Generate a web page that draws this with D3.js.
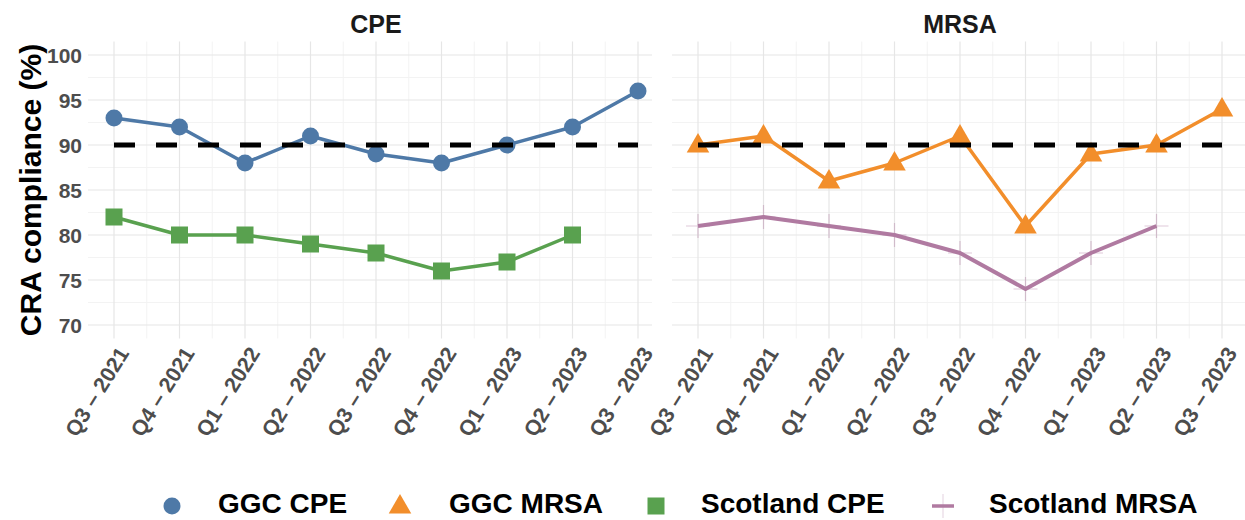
<!DOCTYPE html>
<html>
<head>
<meta charset="utf-8">
<script src="https://cdn.jsdelivr.net/npm/d3@7"></script>
<style>
  body { margin: 0; background: #fff; }
  svg { display: block; font-family: "Liberation Sans", Arial, sans-serif; }
</style>
</head>
<body>
<script>
var quarters = ["Q3 – 2021", "Q4 – 2021", "Q1 – 2022", "Q2 – 2022", "Q3 – 2022",
                "Q4 – 2022", "Q1 – 2023", "Q2 – 2023", "Q3 – 2023"];
var ggcCpe   = [93, 92, 88, 91, 89, 88, 90, 92, 96];
var scotCpe  = [82, 80, 80, 79, 78, 76, 77, 80];
var ggcMrsa  = [90, 91, 86, 88, 91, 81, 89, 90, 94];
var scotMrsa = [81, 82, 81, 80, 78, 74, 78, 81];
var yTicks = [70, 75, 80, 85, 90, 95, 100];
var target = 90;
var panelTitles = ["CPE", "MRSA"];
var legendNames = ["GGC CPE", "GGC MRSA", "Scotland CPE", "Scotland MRSA"];

var w = 1245, h = 520;
var col = { ggcCpe: "#4e79a7", ggcMrsa: "#f28e2b", scotCpe: "#59a14f", scotMrsa: "#b07aa1" };

var svg = d3.select("body").append("svg")
  .attr("width", w)
  .attr("height", h);

// y scale shared by both panels
var y = d3.scaleLinear().domain([68.5, 101.5]).range([338.5, 41.5]);

// panels: grid extent and point range
var panels = [
  { title: panelTitles[0], left: 88, right: 652, cx: 376, range: [114, 638],
    series: [
      { vals: ggcCpe, color: col.ggcCpe, shape: "circle" },
      { vals: scotCpe, color: col.scotCpe, shape: "square" }
    ] },
  { title: panelTitles[1], left: 672, right: 1245, cx: 960, range: [698, 1222],
    series: [
      { vals: ggcMrsa, color: col.ggcMrsa, shape: "triangle" },
      { vals: scotMrsa, color: col.scotMrsa, shape: "cross" }
    ] }
];

function drawMark(g, shape, color, px, py, legend) {
  if (shape === "circle") {
    g.append("circle").attr("cx", px).attr("cy", py).attr("r", 8.5).attr("fill", color);
  } else if (shape === "square") {
    g.append("rect").attr("x", px - 8.5).attr("y", py - 8.5)
      .attr("width", 17).attr("height", 17).attr("fill", color);
  } else if (shape === "triangle") {
    g.append("path").attr("d", d3.symbol(d3.symbolTriangle, 220)())
      .attr("transform", `translate(${px},${py + 1})`).attr("fill", color);
  } else if (legend) {
    // legend key: strong horizontal bar, faint vertical
    g.append("path").attr("d", `M${px - 11},${py}H${px + 11}`)
      .attr("stroke", color).attr("stroke-width", 3.5);
    g.append("path").attr("d", `M${px},${py - 12}V${py + 12}`)
      .attr("stroke", color).attr("stroke-opacity", 0.35).attr("stroke-width", 1);
  } else {
    var a = 12;
    g.append("path")
      .attr("d", `M${px - a},${py}H${px + a}M${px},${py - a}V${py + a}`)
      .attr("stroke", color)
      .attr("stroke-opacity", 0.4)
      .attr("stroke-width", 1.2);
  }
}

panels.forEach(p => {
  var x = d3.scalePoint().domain(quarters).range(p.range);
  var step = x.step();
  var g = svg.append("g");

  // minor grid
  var minorY = yTicks.slice(0, -1).map(v => v + 2.5);
  g.selectAll(".hminor").data(minorY).enter().append("line")
    .attr("x1", p.left).attr("x2", p.right)
    .attr("y1", d => y(d)).attr("y2", d => y(d))
    .attr("stroke", "#f3f3f3").attr("stroke-width", 1);
  var minorX = quarters.slice(0, -1).map(q => x(q) + step / 2);
  g.selectAll(".vminor").data(minorX).enter().append("line")
    .attr("x1", d => d).attr("x2", d => d)
    .attr("y1", y.range()[0]).attr("y2", y.range()[1])
    .attr("stroke", "#f3f3f3").attr("stroke-width", 1);

  // major grid
  g.selectAll(".hmajor").data(yTicks).enter().append("line")
    .attr("x1", p.left).attr("x2", p.right)
    .attr("y1", d => y(d)).attr("y2", d => y(d))
    .attr("stroke", "#e6e6e6").attr("stroke-width", 1.2);
  g.selectAll(".vmajor").data(quarters).enter().append("line")
    .attr("x1", d => x(d)).attr("x2", d => x(d))
    .attr("y1", y.range()[0]).attr("y2", y.range()[1])
    .attr("stroke", "#e6e6e6").attr("stroke-width", 1.2);

  // panel title
  svg.append("text")
    .attr("x", p.cx).attr("y", 33)
    .attr("text-anchor", "middle")
    .style("font-size", "25px").style("font-weight", "bold").style("fill", "#1a1a1a")
    .text(p.title);

  // x tick labels
  g.selectAll(".xlab").data(quarters).enter().append("text")
    .attr("transform", d => `translate(${x(d) + 3},${345}) rotate(-58)`)
    .attr("text-anchor", "end")
    .attr("dy", "0.71em")
    .style("font-size", "21.5px").style("font-weight", "bold").style("fill", "#4d4d4d")
    .text(d => d);

  // lines and marks
  var line = d3.line().x((d, i) => x(quarters[i])).y(d => y(d));
  p.series.forEach(s => {
    g.append("path").datum(s.vals)
      .attr("d", line)
      .attr("fill", "none")
      .attr("stroke", s.color)
      .attr("stroke-width", s.shape === "cross" ? 4 : 3.5)
      .attr("stroke-linejoin", "round");
  });
  p.series.forEach(s => {
    s.vals.forEach((v, i) => drawMark(g, s.shape, s.color, x(quarters[i]), y(v), false));
  });

  // target line
  g.append("line")
    .attr("x1", x(quarters[0])).attr("x2", x(quarters[quarters.length - 1]))
    .attr("y1", y(target)).attr("y2", y(target))
    .attr("stroke", "#000").attr("stroke-width", 5)
    .attr("stroke-dasharray", "21,21");
});

// y axis labels (left panel only)
svg.selectAll(".ylab").data(yTicks).enter().append("text")
  .attr("x", 82).attr("y", d => y(d))
  .attr("dy", "0.36em")
  .attr("text-anchor", "end")
  .style("font-size", "21px").style("font-weight", "bold").style("fill", "#4d4d4d")
  .text(d => d);

svg.append("text")
  .attr("transform", "translate(41,190) rotate(-90)")
  .attr("text-anchor", "middle")
  .style("font-size", "30px").style("font-weight", "bold").style("fill", "#000")
  .text("CRA compliance (%)");

// legend
var legendKeys = [
  { name: legendNames[0], color: col.ggcCpe, shape: "circle", kx: 172, tx: 218 },
  { name: legendNames[1], color: col.ggcMrsa, shape: "triangle", kx: 400, tx: 449 },
  { name: legendNames[2], color: col.scotCpe, shape: "square", kx: 656, tx: 701 },
  { name: legendNames[3], color: col.scotMrsa, shape: "cross", kx: 943, tx: 989 }
];
var lg = svg.append("g");
legendKeys.forEach(k => {
  drawMark(lg, k.shape, k.color, k.kx, 506, true);
  lg.append("text")
    .attr("x", k.tx).attr("y", 513)
    .style("font-size", "28px").style("font-weight", "bold").style("fill", "#000")
    .text(k.name);
});
</script>
</body>
</html>
